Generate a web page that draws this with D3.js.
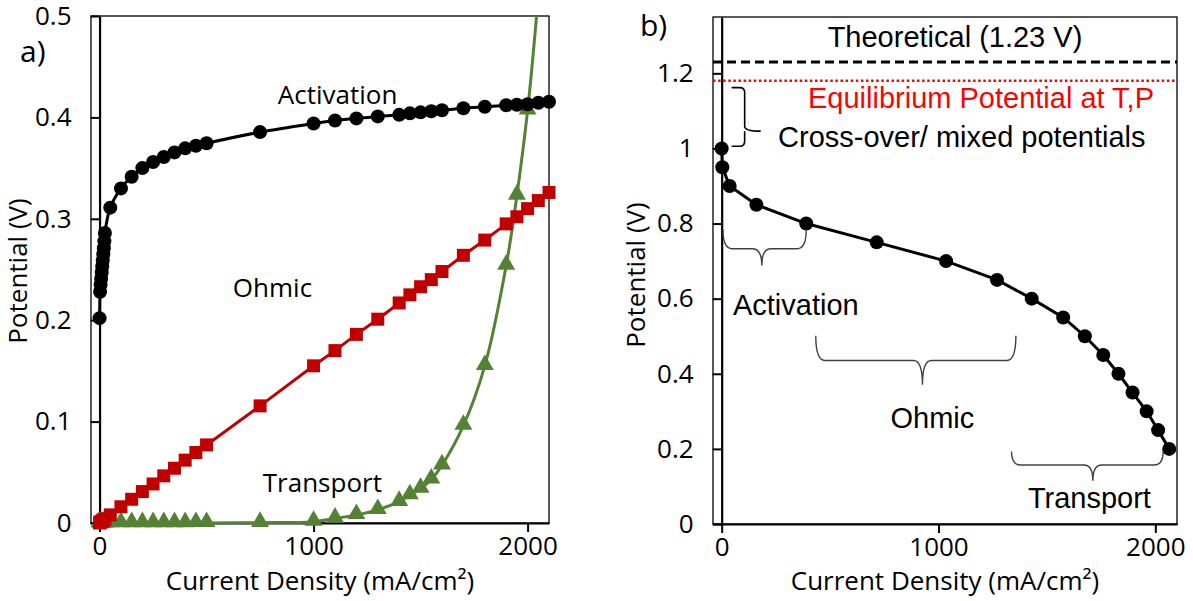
<!DOCTYPE html>
<html><head><meta charset="utf-8">
<script src="https://cdn.jsdelivr.net/npm/d3@7"></script>
<style>body{margin:0;background:#fff}</style></head>
<body>
<svg id="c" width="1193" height="601"></svg>
<script>
// ---------- DATA (panel a) ----------
const currentA = [0, 2.5, 5, 7.5, 10, 12.5, 15, 17.5, 20, 22.5, 25,
  50, 100, 150, 200, 250, 300, 350, 400, 450, 500,
  750, 1000, 1100, 1200, 1300, 1400, 1450, 1500, 1550, 1600, 1700, 1800, 1900, 1950, 2000, 2050, 2100];
const activationV = [0.202, 0.228, 0.235, 0.241, 0.247, 0.253, 0.259, 0.265, 0.271, 0.278, 0.286,
  0.311, 0.330, 0.3415, 0.350, 0.356, 0.361, 0.3655, 0.3695, 0.372, 0.3745,
  0.3855, 0.394, 0.397, 0.399, 0.401, 0.4025, 0.404, 0.405, 0.406, 0.407, 0.409, 0.4105, 0.412, 0.4125, 0.413, 0.4145, 0.4155];
const ohmicV = [0.000, 0.0005, 0.001, 0.001, 0.0015, 0.002, 0.002, 0.003, 0.003, 0.0035, 0.004,
  0.008, 0.016, 0.0234, 0.031, 0.0385, 0.0465, 0.054, 0.062, 0.0695, 0.077,
  0.1155, 0.155, 0.170, 0.186, 0.201, 0.217, 0.225, 0.233, 0.240, 0.248, 0.264, 0.279, 0.295, 0.302, 0.310, 0.318, 0.326];
const transportV = [0, 0, 0, 0, 0, 0, 0, 0, 0, 0, 0,
  0, 0, 0, 0, 0, 0, 0, 0, 0.0001, 0.0001,
  0.0003, 0.0013, 0.0045, 0.008, 0.013, 0.021, 0.0275, 0.034, 0.043, 0.057, 0.096, 0.155, 0.254, 0.323, 0.407, 0.52, 0.66];
const ticksAx = [0, 1000, 2000];
const ticksAy = [0, 0.1, 0.2, 0.3, 0.4, 0.5];

// ---------- DATA (panel b) ----------
const currentB = [0, 3, 37, 160, 390, 715, 1035, 1270, 1430, 1575, 1675, 1760, 1830, 1895, 1960, 2013, 2064];
const cellV = [1.0, 0.95, 0.9, 0.85, 0.8, 0.75, 0.7, 0.65, 0.6, 0.55, 0.5, 0.45, 0.4, 0.35, 0.3, 0.25, 0.2];
const theoreticalV = 1.23;
const equilibriumV = 1.18;
const ticksBx = [0, 1000, 2000];
const ticksBy = [0, 0.2, 0.4, 0.6, 0.8, 1, 1.2];

// annotation labels (data units)
const labelsA = [
  {t: "Activation", x: 1112, y: 0.4132},
  {t: "Ohmic", x: 808, y: 0.2232},
  {t: "Transport", x: 1041, y: 0.0309}
];
const bracesB = [
  {x0: 6, x1: 390, xm: 185, yTop: 0.784, yLine: 0.733, yTip: 0.688},
  {x0: 434, x1: 1357, xm: 926, yTop: 0.501, yLine: 0.4355, yTip: 0.371},
  {x0: 1337, x1: 2036, xm: 1712, yTop: 0.193, yLine: 0.157, yTip: 0.115}
];
const labelsB = [
  {t: "Activation", x: 52, y: 0.556, a: "start"},
  {t: "Ohmic", x: 972, y: 0.2556, a: "middle"},
  {t: "Transport", x: 1696, y: 0.0426, a: "middle"}
];

// ---------- DRAW ----------
const svg = d3.select('#c');
const CAL = "'Open Sans', sans-serif";
const ARI = "'Liberation Sans', Arial, sans-serif";
const FS = 26;

function makePanel(o) {
  const x = d3.scaleLinear().domain([-40, 2100]).range([o.l, o.r]);
  const y = d3.scaleLinear().domain(o.yDom).range([o.b, o.t]);
  const g = svg.append('g');
  g.append('rect').attr('x', o.l).attr('y', o.t).attr('width', o.r - o.l).attr('height', o.b - o.t)
    .attr('fill', 'none').attr('stroke', '#000').attr('stroke-width', 1.3);
  const xa = g.append('g').attr('transform', `translate(0,${o.b})`)
    .call(d3.axisBottom(x).tickValues(o.xt).tickSize(9).tickSizeOuter(0).tickFormat(d3.format('d')));
  xa.select('.domain').attr('stroke-width', 2.2);
  xa.selectAll('.tick line').attr('stroke-width', 2);
  xa.selectAll('text').attr('font-family', CAL).attr('font-size', FS).attr('fill', '#000')
    .attr('dy', null).attr('y', 32);
  const ya = g.append('g').attr('transform', `translate(${x(0)},0)`)
    .call(d3.axisLeft(y).tickValues(o.yt).tickSize(9).tickSizeOuter(0).tickPadding(19)
      .tickFormat(d => String(+d.toFixed(1))));
  ya.select('.domain').attr('stroke-width', 2.2);
  ya.selectAll('.tick line').attr('stroke-width', 2);
  ya.selectAll('text').attr('font-family', CAL).attr('font-size', FS).attr('fill', '#000');
  const id = 'clip' + o.name;
  svg.append('clipPath').attr('id', id).append('rect')
    .attr('x', o.l).attr('y', o.t).attr('width', o.r - o.l + 12).attr('height', o.b - o.t + 10);
  svg.append('text').attr('x', (o.l + o.r) / 2).attr('y', 590).attr('text-anchor', 'middle')
    .attr('font-family', CAL).attr('font-size', FS).text('Current Density (mA/cm²)');
  svg.append('text').attr('transform', `translate(${o.ytx},${o.yty}) rotate(-90)`).attr('text-anchor', 'middle')
    .attr('font-family', CAL).attr('font-size', FS).text('Potential (V)');
  svg.append('text').attr('x', o.px).attr('y', o.py).attr('font-family', CAL).attr('font-size', 30).text(o.name + ')');
  return {x, y, g, id};
}

// Panel a
const A = makePanel({name: 'a', l: 91, r: 549, t: 16, b: 523, yDom: [0, 0.5], xt: ticksAx, yt: ticksAy,
  ytx: 27, yty: 271, px: 20, py: 62});
function seriesA(vals, color, curve) {
  const pts = currentA.map((c, i) => [c, vals[i]]);
  A.g.append('path').attr('clip-path', `url(#${A.id})`)
    .attr('d', d3.line().x(d => A.x(d[0])).y(d => A.y(d[1])).curve(curve)(pts))
    .attr('fill', 'none').attr('stroke', color).attr('stroke-width', 3);
  return pts.filter(d => d[1] <= 0.5);
}
const tPts = seriesA(transportV, '#548235', d3.curveCatmullRom);
const oPts = seriesA(ohmicV, '#C00000', d3.curveLinear);
const aPts = seriesA(activationV, '#000', d3.curveCatmullRom);
A.g.append('g').selectAll('path').data(tPts).join('path')
  .attr('transform', d => `translate(${A.x(d[0])},${A.y(d[1]) - 1})`)
  .attr('d', d3.symbol(d3.symbolTriangle, 140)).attr('fill', '#548235');
A.g.append('g').selectAll('rect').data(oPts).join('rect')
  .attr('x', d => A.x(d[0]) - 6.5).attr('y', d => A.y(d[1]) - 6.5).attr('width', 13).attr('height', 13)
  .attr('fill', '#C00000');
A.g.append('g').selectAll('circle').data(aPts).join('circle')
  .attr('cx', d => A.x(d[0])).attr('cy', d => A.y(d[1])).attr('r', 7).attr('fill', '#000');
A.g.selectAll('.lab').data(labelsA).join('text').attr('class', 'lab')
  .attr('x', d => A.x(d.x)).attr('y', d => A.y(d.y)).attr('text-anchor', 'middle')
  .attr('font-family', CAL).attr('font-size', FS).text(d => d.t);

// Panel b
const B = makePanel({name: 'b', l: 713, r: 1177, t: 17, b: 524, yDom: [0, 1.35], xt: ticksBx, yt: ticksBy,
  ytx: 645, yty: 275, px: 640, py: 36});
B.g.append('line').attr('x1', B.x(-40)).attr('x2', B.x(2100)).attr('y1', B.y(theoreticalV)).attr('y2', B.y(theoreticalV))
  .attr('stroke', '#000').attr('stroke-width', 3).attr('stroke-dasharray', '9,5');
B.g.append('line').attr('x1', B.x(-40)).attr('x2', B.x(2100)).attr('y1', B.y(equilibriumV)).attr('y2', B.y(equilibriumV))
  .attr('stroke', '#FF0000').attr('stroke-width', 2.5).attr('stroke-dasharray', '2.5,2.6');
const bPts = currentB.map((c, i) => [c, cellV[i]]);
B.g.append('path').attr('d', d3.line().x(d => B.x(d[0])).y(d => B.y(d[1]))(bPts))
  .attr('fill', 'none').attr('stroke', '#000').attr('stroke-width', 3);
B.g.append('g').selectAll('circle').data(bPts).join('circle')
  .attr('cx', d => B.x(d[0])).attr('cy', d => B.y(d[1])).attr('r', 7).attr('fill', '#000');
function hBrace(b) {
  const x0 = B.x(b.x0), x1 = B.x(b.x1), xm = B.x(b.xm);
  const yt = B.y(b.yTop), yl = B.y(b.yLine), yp = B.y(b.yTip);
  const r = 9;
  return `M${x0},${yt} Q${x0},${yl} ${x0 + r},${yl} L${xm - r},${yl} Q${xm},${yl} ${xm},${yp} ` +
         `M${xm},${yp} Q${xm},${yl} ${xm + r},${yl} L${x1 - r},${yl} Q${x1},${yl} ${x1},${yt}`;
}
B.g.append('g').selectAll('path').data(bracesB).join('path').attr('d', hBrace)
  .attr('fill', 'none').attr('stroke', '#404040').attr('stroke-width', 1.4);
(function () {
  const xe = B.x(46), xv = B.x(106), xt = B.x(180);
  const y0 = B.y(1.162), y1 = B.y(1.006), ym = B.y(1.046);
  const r = 5;
  const d = `M${xe},${y0} L${xv - r},${y0} Q${xv},${y0} ${xv},${y0 + r} L${xv},${ym - r} Q${xv},${ym} ${xt},${ym} ` +
            `M${xv},${ym} L${xv},${y1 - r} Q${xv},${y1} ${xv - r},${y1} L${xe},${y1}`;
  B.g.append('path').attr('d', d).attr('fill', 'none').attr('stroke', '#000').attr('stroke-width', 1.6);
})();
B.g.append('text').attr('x', B.x(1076)).attr('y', B.y(1.271)).attr('text-anchor', 'middle')
  .attr('font-family', ARI).attr('font-size', 29).text('Theoretical (1.23 V)');
B.g.append('text').attr('x', B.x(1196)).attr('y', B.y(1.1076)).attr('text-anchor', 'middle')
  .attr('font-family', ARI).attr('font-size', 29).attr('fill', '#FF0000').text('Equilibrium Potential at T,P');
B.g.append('text').attr('x', B.x(260)).attr('y', B.y(1.0045)).attr('text-anchor', 'start')
  .attr('font-family', ARI).attr('font-size', 29).text('Cross-over/ mixed potentials');
B.g.selectAll('.lab').data(labelsB).join('text').attr('class', 'lab')
  .attr('x', d => B.x(d.x)).attr('y', d => B.y(d.y)).attr('text-anchor', d => d.a)
  .attr('font-family', ARI).attr('font-size', 29).text(d => d.t);
</script>
</body></html>
